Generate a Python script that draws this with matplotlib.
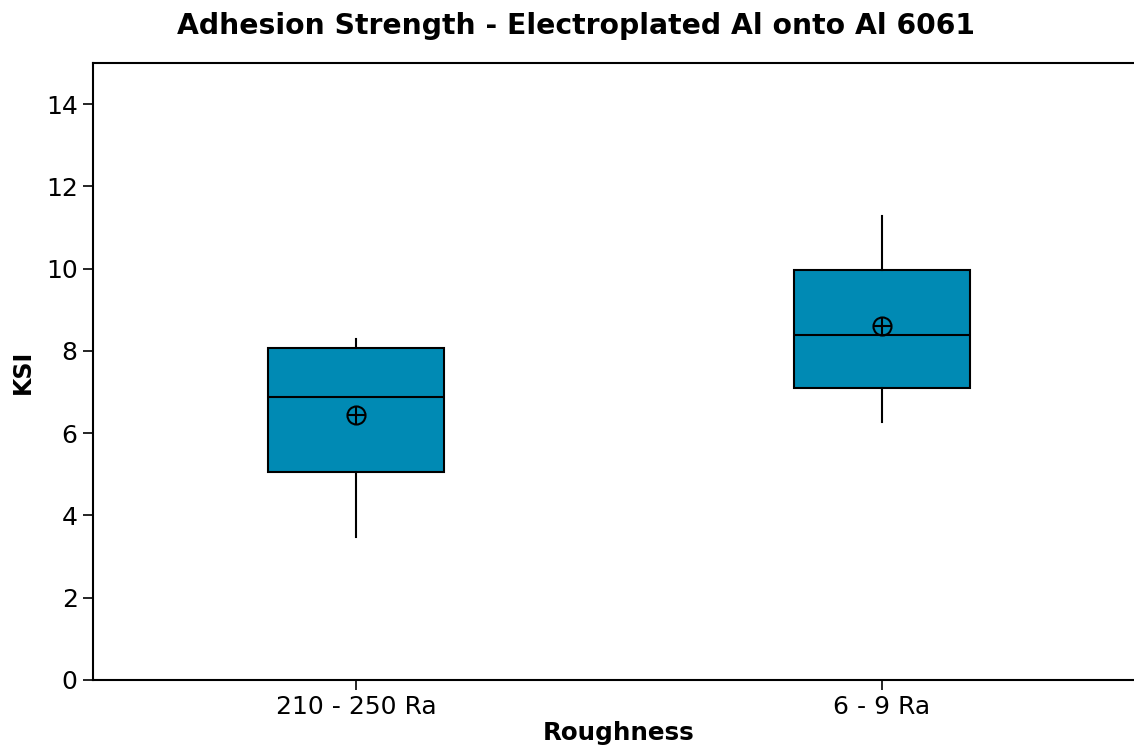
import numpy as np
import matplotlib.pyplot as plt

# Box statistics (KSI)
groups = ['210 - 250 Ra', '6 - 9 Ra']
q1 = [5.06, 7.11]
medians = [6.89, 8.38]
q3 = [8.06, 9.96]
whislo = [3.48, 6.26]
whishi = [8.30, 11.27]
means = [6.43, 8.60]

stats = []
for i in range(len(groups)):
    stats.append({'label': groups[i], 'q1': q1[i], 'med': medians[i], 'q3': q3[i],
                  'whislo': whislo[i], 'whishi': whishi[i], 'fliers': []})

fig = plt.figure(figsize=(11.34, 7.47), dpi=100)
ax = fig.add_axes([0.082, 0.0897, 0.9277, 0.826])

box_color = '#008AB4'
ax.bxp(stats, positions=[1, 2], widths=0.335, patch_artist=True, showcaps=False,
       boxprops=dict(facecolor=box_color, edgecolor='black', linewidth=1.5),
       medianprops=dict(color='black', linewidth=1.5),
       whiskerprops=dict(color='black', linewidth=1.5))

# Mean symbol: circle with a cross
ax.plot([1, 2], means, linestyle='none', marker='o', markersize=13,
        markerfacecolor='none', markeredgecolor='black', markeredgewidth=1.5)
ax.plot([1, 2], means, linestyle='none', marker='+', markersize=13,
        color='black', markeredgewidth=1.5)

ax.set_xlim(0.5, 2.5)
ax.set_ylim(0, 15)
ax.set_yticks(np.arange(0, 15, 2))
ax.set_xticks([1, 2])
ax.set_xticklabels(groups)

for s in ax.spines.values():
    s.set_linewidth(1.5)
ax.tick_params(axis='both', direction='out', length=7, width=1.2, labelsize=18, pad=4)

ax.set_ylabel('KSI', fontsize=17, fontweight='bold', labelpad=8)
ax.set_xlabel('Roughness', fontsize=17.7, fontweight='bold', labelpad=1)
fig.text(0.508, 0.965, 'Adhesion Strength - Electroplated Al onto Al 6061',
         ha='center', va='center', fontsize=20.3, fontweight='bold')

fig.savefig('out.png', dpi=100)
